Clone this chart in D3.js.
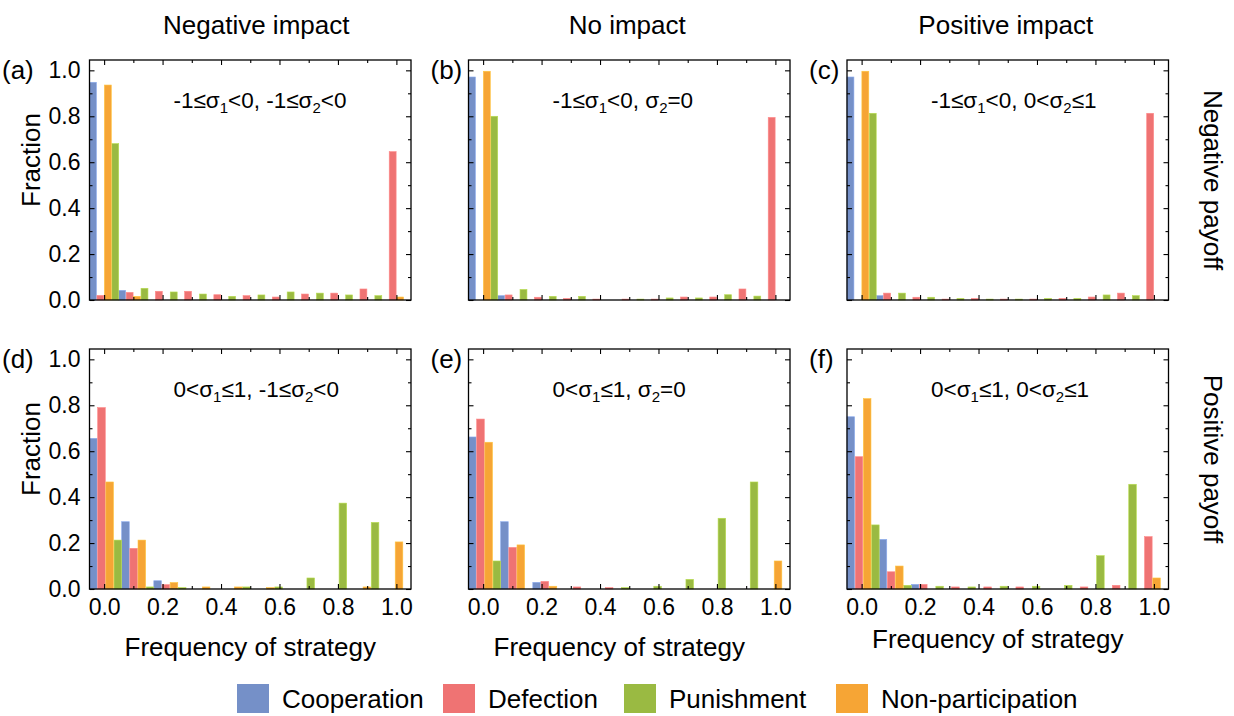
<!DOCTYPE html>
<html>
<head>
<meta charset="utf-8">
<script src="https://cdn.jsdelivr.net/npm/d3@7/dist/d3.min.js"></script>
<style>
  body { margin: 0; background: #fff; }
  svg { font-family: "Liberation Sans", Arial, sans-serif; }
</style>
</head>
<body>
<script>
// legend order of the strategies
const strategies = ["Cooperation", "Defection", "Punishment", "Non-participation"];
// order of the bars inside one bin
const barOrder = ["Cooperation", "Defection", "Non-participation", "Punishment"];
const colors = ["#7590c8", "#ef7373", "#9aba42", "#f6a535"];

const colTitles = ["Negative impact", "No impact", "Positive impact"];
const rowTitles = ["Negative payoff", "Positive payoff"];
const panelLabels = ["(a)", "(b)", "(c)", "(d)", "(e)", "(f)"];
const sigma1Text = ["-1≤σ1<0", "0<σ1≤1"];
const sigma2Text = ["-1≤σ2<0", "σ2=0", "0<σ2≤1"];
const majorTicks = [0, 0.2, 0.4, 0.6, 0.8, 1.0];
const minorTicks = [0.1, 0.3, 0.5, 0.7, 0.9];

// each panel: [Cooperation, Defection, Punishment, Non-participation], one value per bin
const panelA = [
  [0.948, 0.042, 0, 0, 0, 0, 0, 0, 0, 0, 0],
  [0.020, 0.033, 0.038, 0.038, 0.023, 0.019, 0.013, 0.026, 0.030, 0.048, 0.646],
  [0.681, 0.051, 0.035, 0.026, 0.016, 0.022, 0.035, 0.030, 0.022, 0.019, 0],
  [0.936, 0.016, 0, 0, 0, 0, 0, 0, 0, 0, 0.013]
];
const panelB = [
  [0.971, 0.019, 0, 0, 0, 0, 0, 0, 0, 0, 0],
  [0, 0.022, 0.012, 0.007, 0.004, 0.004, 0.004, 0.013, 0.013, 0.048, 0.795],
  [0.800, 0.046, 0.016, 0.016, 0, 0.004, 0.009, 0.009, 0.023, 0.017, 0],
  [0.996, 0, 0, 0, 0, 0, 0, 0, 0, 0, 0]
];
const panelC = [
  [0.971, 0.019, 0, 0, 0, 0, 0, 0, 0, 0, 0],
  [0, 0.030, 0.012, 0.004, 0.007, 0.004, 0.004, 0.007, 0.013, 0.030, 0.813],
  [0.813, 0.030, 0.012, 0.007, 0.004, 0.004, 0.007, 0.007, 0.022, 0.019, 0],
  [0.996, 0, 0, 0, 0, 0, 0, 0, 0, 0, 0]
];
const panelD = [
  [0.656, 0.293, 0.036, 0, 0, 0, 0, 0, 0, 0],
  [0.790, 0.177, 0.019, 0, 0, 0, 0, 0, 0, 0],
  [0.213, 0.009, 0.006, 0, 0.009, 0.009, 0.048, 0.374, 0.290, 0],
  [0.466, 0.213, 0.028, 0.009, 0.009, 0.006, 0, 0, 0.009, 0.205]
];
const panelE = [
  [0.662, 0.293, 0.029, 0, 0, 0, 0, 0, 0, 0],
  [0.740, 0.181, 0.033, 0.009, 0.006, 0, 0, 0, 0, 0],
  [0.122, 0, 0, 0, 0.006, 0.012, 0.042, 0.308, 0.466, 0],
  [0.639, 0.192, 0.012, 0, 0, 0, 0, 0, 0, 0.122]
];
const panelF = [
  [0.750, 0.216, 0.020, 0, 0, 0, 0, 0, 0, 0],
  [0.576, 0.075, 0.020, 0.009, 0.009, 0.009, 0, 0.009, 0.016, 0.228],
  [0.279, 0.016, 0.012, 0.009, 0.012, 0.012, 0.016, 0.145, 0.456, 0],
  [0.829, 0.100, 0, 0, 0, 0, 0, 0, 0, 0.048]
];
const panels = [panelA, panelB, panelC, panelD, panelE, panelF];

const width = 1234, height = 716;
const colX = [89.5, 468.5, 847], rowY = [60, 349];
const W = 321.5, H = 240;
const legendX = [237, 443, 624, 836];

const svg = d3.select("body").append("svg")
    .attr("width", width)
    .attr("height", height);

const colorOf = d3.scaleOrdinal().domain(strategies).range(colors);

// column titles
svg.selectAll(".coltitle")
    .data(colTitles)
    .enter().append("text")
    .attr("x", (d, i) => colX[i] + W / 2 + (i === 0 ? 6 : -2))
    .attr("y", 34)
    .attr("text-anchor", "middle")
    .style("font-size", "26px")
    .text(d => d);

// row titles on the right
svg.selectAll(".rowtitle")
    .data(rowTitles)
    .enter().append("text")
    .attr("transform", (d, i) => `translate(1204,${rowY[i] + H / 2 - (i === 0 ? 0 : 10)}) rotate(90)`)
    .attr("text-anchor", "middle")
    .style("font-size", "26px")
    .text(d => d);

function addSubscripted(sel, str) {
  // "σ1" -> σ with a lowered, smaller digit
  const parts = str.split(/(σ\d)/).filter(s => s.length);
  let lowered = false;
  parts.forEach(p => {
    if (/^σ\d$/.test(p)) {
      sel.append("tspan").attr("dy", lowered ? -5 : 0).text("σ");
      sel.append("tspan").attr("dy", 5).style("font-size", "15px").text(p[1]);
      lowered = true;
    } else {
      sel.append("tspan").attr("dy", lowered ? -5 : 0).text(p);
      lowered = false;
    }
  });
}

panels.forEach(function(data, i) {
  const col = i % 3, row = Math.floor(i / 3);
  const g = svg.append("g")
      .attr("transform", `translate(${colX[col]},${rowY[row]})`);

  const x = d3.scaleLinear().domain([-0.05, 1.05]).range([0, W]);
  const y = d3.scaleLinear().domain([0, 1.045]).range([H, 0]);
  const nBins = data[0].length;
  const bin = d3.scaleBand().domain(d3.range(nBins)).range([x(-0.05), x(1.05)]);
  const slot = d3.scaleBand().domain(barOrder).range([0, bin.bandwidth()]).paddingInner(0.07);

  const bars = [];
  strategies.forEach((s, k) => {
    data[k].forEach((v, b) => { if (v > 0) bars.push({ s: s, b: b, v: v }); });
  });

  g.selectAll("rect.bar")
      .data(bars)
      .enter().append("rect")
      .attr("class", "bar")
      .attr("x", d => bin(d.b) + slot(d.s))
      .attr("width", slot.bandwidth())
      .attr("y", d => y(d.v))
      .attr("height", d => H - y(d.v))
      .attr("fill", d => colorOf(d.s))
      .attr("stroke", d => d3.color(colorOf(d.s)).brighter(0.5))
      .attr("stroke-width", 0.6);

  // axes, ticks pointing inward on all four sides
  const fmt = d3.format(".1f");
  const axes = [
    g.append("g").attr("transform", `translate(0,${H})`)
      .call(d3.axisBottom(x).tickValues(majorTicks).tickSize(-5).tickPadding(10)
        .tickFormat(row === 1 ? fmt : "")),
    g.append("g").attr("transform", `translate(0,${H})`)
      .call(d3.axisBottom(x).tickValues(minorTicks).tickSize(-3).tickFormat("")),
    g.append("g")
      .call(d3.axisTop(x).tickValues(majorTicks).tickSize(-5).tickFormat("")),
    g.append("g")
      .call(d3.axisTop(x).tickValues(minorTicks).tickSize(-3).tickFormat("")),
    g.append("g")
      .call(d3.axisLeft(y).tickValues(majorTicks).tickSize(-5).tickPadding(9)
        .tickFormat(col === 0 ? fmt : "")),
    g.append("g")
      .call(d3.axisLeft(y).tickValues(minorTicks).tickSize(-3).tickFormat("")),
    g.append("g").attr("transform", `translate(${W},0)`)
      .call(d3.axisRight(y).tickValues(majorTicks).tickSize(-5).tickFormat("")),
    g.append("g").attr("transform", `translate(${W},0)`)
      .call(d3.axisRight(y).tickValues(minorTicks).tickSize(-3).tickFormat(""))
  ];
  axes.forEach(a => {
    a.select(".domain").remove();
    a.selectAll("line").attr("stroke", "#000").attr("stroke-width", 1.1);
    a.selectAll("text").attr("fill", "#000").style("font-size", "23px")
      .style("font-family", "'Liberation Sans', Arial, sans-serif");
  });

  g.append("rect")
      .attr("width", W)
      .attr("height", H)
      .attr("fill", "none")
      .attr("stroke", "#000")
      .attr("stroke-width", 1.3);

  // panel label
  svg.append("text")
      .attr("x", col === 0 ? 2 : colX[col] - 38)
      .attr("y", rowY[row] + 19)
      .style("font-size", "26px")
      .text(panelLabels[i]);

  // condition annotation
  const ann = g.append("text")
      .attr("x", 84)
      .attr("y", 48)
      .style("font-size", "22.5px");
  addSubscripted(ann, sigma1Text[row] + ", " + sigma2Text[col]);

  if (col === 0) {
    svg.append("text")
        .attr("transform", `translate(40,${rowY[row] + H / 2 - 20}) rotate(-90)`)
        .attr("text-anchor", "middle")
        .style("font-size", "26px")
        .text("Fraction");
  }
  if (row === 1) {
    svg.append("text")
        .attr("x", colX[col] + W / 2 + (col === 0 ? 0 : -10))
        .attr("y", col === 2 ? 648 : 656)
        .attr("text-anchor", "middle")
        .style("font-size", "26px")
        .text("Frequency of strategy");
  }
});

// legend
const legend = svg.append("g").attr("transform", "translate(0,684)");
strategies.forEach((s, k) => {
  const item = legend.append("g").attr("transform", `translate(${legendX[k]},0)`);
  item.append("rect")
      .attr("width", 32)
      .attr("height", 29)
      .attr("fill", colors[k]);
  item.append("text")
      .attr("x", 45)
      .attr("y", 24)
      .style("font-size", "26px")
      .text(s);
});
</script>
</body>
</html>
